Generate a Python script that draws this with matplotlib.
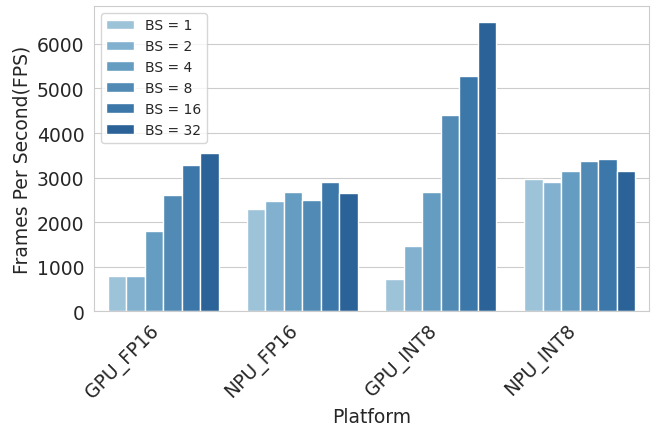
import matplotlib
matplotlib.use('Agg')
import matplotlib.pyplot as plt
import numpy as np
import seaborn as sns

platforms = ['GPU_FP16', 'NPU_FP16', 'GPU_INT8', 'NPU_INT8']
batch_sizes = [1, 2, 4, 8, 16, 32]
# fps[batch][platform]
fps_bs1 = [790, 2285, 726, 2966]
fps_bs2 = [790, 2465, 1461, 2899]
fps_bs4 = [1790, 2667, 2674, 3153]
fps_bs8 = [2600, 2487, 4397, 3364]
fps_bs16 = [3281, 2899, 5273, 3423]
fps_bs32 = [3543, 2659, 6501, 3146]
fps = [fps_bs1, fps_bs2, fps_bs4, fps_bs8, fps_bs16, fps_bs32]

colors = ['#9dc3d8', '#82b0cf', '#659dc2', '#508ab5', '#3b77a8', '#2b6399']

sns.set_style('whitegrid')
plt.rcParams['font.family'] = ['DejaVu Sans']

fig = plt.figure(figsize=(6.57, 4.27), dpi=100)
ax = fig.add_axes([0.143, 0.269, 0.845, 0.715])

x = np.arange(len(platforms))
group_w = 0.8
w = group_w / len(batch_sizes)
for i, bs in enumerate(batch_sizes):
    offs = -group_w / 2 + w * (i + 0.5)
    ax.bar(x + offs, fps[i], width=w, color=colors[i], edgecolor='white',
           linewidth=1.0, label='BS = %d' % bs)

ax.set_xlim(-0.5, len(platforms) - 0.5)
ax.set_ylim(0, 6856)
ax.set_xticks(x)
ax.set_xticklabels(platforms, rotation=45, ha='right', fontsize=13.5, color='#262626')
ax.set_yticks([0, 1000, 2000, 3000, 4000, 5000, 6000])
ax.tick_params(axis='y', labelsize=13.5, labelcolor='#262626')
ax.set_xlabel('Platform', fontsize=13.5, color='#262626')
ax.set_ylabel('Frames Per Second(FPS)', fontsize=13.5, color='#262626')
ax.grid(axis='x', visible=False)
ax.set_axisbelow(True)

ax.legend(loc='upper left', fontsize=10)

plt.savefig('out.png', dpi=100)
